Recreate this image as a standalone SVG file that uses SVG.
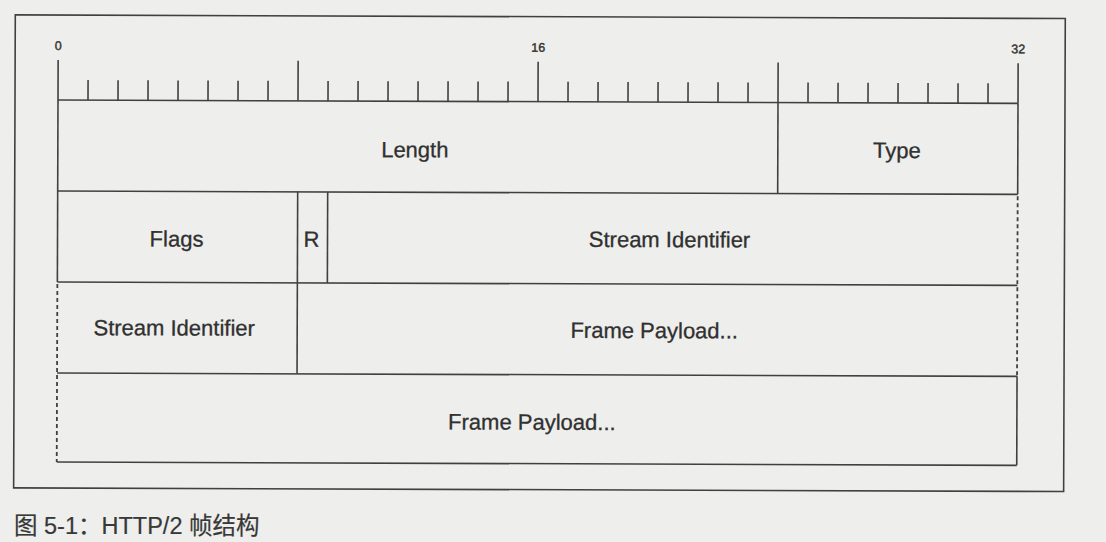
<svg xmlns="http://www.w3.org/2000/svg" width="1106" height="542" viewBox="0 0 1106 542">
  <style>
    .ln { stroke: #404040; stroke-width: 1.6; fill: none; }
    .dash { stroke: #404040; stroke-width: 1.8; fill: none; stroke-dasharray: 4 3; }
    .tk { stroke: #404040; stroke-width: 1.6; }
    .lbl { font-family: "Liberation Sans", Arial, sans-serif; font-size: 22px; fill: #303030; stroke: #303030; stroke-width: 0.3; text-anchor: middle; }
    .num { font-family: "Liberation Sans", Arial, sans-serif; font-size: 12.5px; fill: #303030; stroke: #303030; stroke-width: 0.4; text-anchor: middle; }
    .cap { font-family: "Liberation Sans", "Noto Sans CJK SC", sans-serif; font-size: 23.5px; fill: #383838; stroke: #383838; stroke-width: 0.2; }
  </style>
  <rect x="0" y="0" width="1106" height="542" fill="#eeeeec"/>
  <g transform="rotate(0.2 58 100)">
    <rect id="frame-border" x="15" y="15" width="1050" height="473" class="ln"/>

    <g id="ruler">
      <text class="num" x="58" y="50">0</text>
      <text class="num" x="538" y="50">16</text>
      <text class="num" x="1018" y="50">32</text>
      <line class="tk" x1="58" y1="100" x2="1018" y2="100"/>
      <path class="tk" d="M58 60V100 M88 80V100 M118 80V100 M148 80V100 M178 80V100 M208 80V100 M238 80V100 M268 80V100
        M298 60V100 M328 80V100 M358 80V100 M388 80V100 M418 80V100 M448 80V100 M478 80V100 M508 80V100
        M538 60V100 M568 80V100 M598 80V100 M628 80V100 M658 80V100 M688 80V100 M718 80V100 M748 80V100
        M778 60V100 M808 80V100 M838 80V100 M868 80V100 M898 80V100 M928 80V100 M958 80V100 M988 80V100
        M1018 60V100"/>
    </g>

    <g id="connectors">
      <line class="ln" x1="58" y1="191" x2="1018" y2="191"/>
      <line class="ln" x1="58" y1="282" x2="1018" y2="282"/>
      <line class="ln" x1="58" y1="373" x2="1018" y2="373"/>
      <line class="ln" x1="58" y1="462" x2="1018" y2="462"/>
      <line class="ln" x1="58" y1="100" x2="58" y2="282"/>
      <line class="dash" x1="58" y1="284" x2="58" y2="462"/>
      <line class="ln" x1="1018" y1="100" x2="1018" y2="191"/>
      <line class="dash" x1="1018" y1="193" x2="1018" y2="373"/>
      <line class="ln" x1="1018" y1="373" x2="1018" y2="462"/>
    </g>

    <g id="length">
      <text class="lbl" x="415" y="156">Length</text>
    </g>
    <g id="type">
      <line class="ln" x1="778" y1="100" x2="778" y2="191"/>
      <text class="lbl" x="897" y="155">Type</text>
    </g>
    <g id="flags">
      <text class="lbl" x="177" y="246">Flags</text>
    </g>
    <g id="reserved">
      <line class="ln" x1="298" y1="191" x2="298" y2="282"/>
      <line class="ln" x1="328" y1="191" x2="328" y2="282"/>
      <text class="lbl" x="312" y="246">R</text>
    </g>
    <g id="stream-identifier-1">
      <text class="lbl" x="670" y="245">Stream Identifier</text>
    </g>
    <g id="stream-identifier-2">
      <line class="ln" x1="298" y1="282" x2="298" y2="373"/>
      <text class="lbl" x="175" y="335">Stream Identifier</text>
    </g>
    <g id="frame-payload-1">
      <text class="lbl" x="655" y="336">Frame Payload...</text>
    </g>
    <g id="frame-payload-2">
      <text class="lbl" x="533" y="428">Frame Payload...</text>
    </g>
  </g>
  <text class="cap" x="14" y="534">图 5-1：HTTP/2 帧结构</text>
</svg>
